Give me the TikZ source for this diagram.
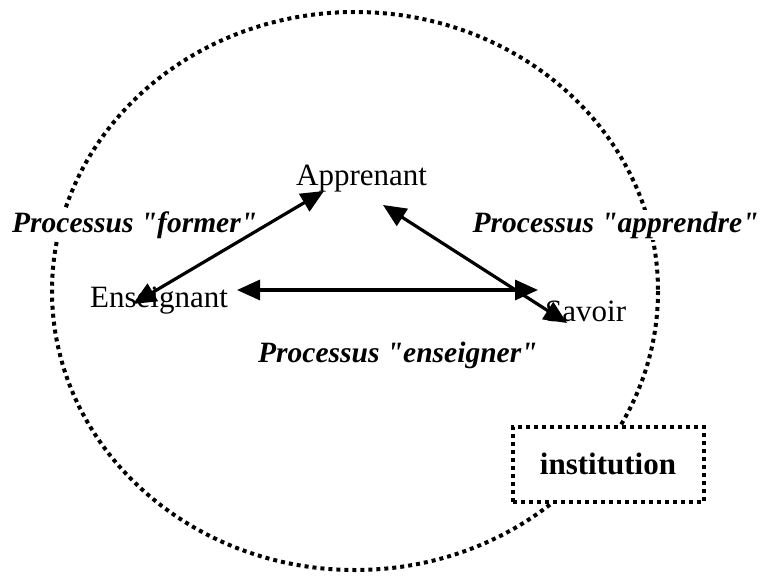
\documentclass[tikz,border=0pt]{standalone}
\usepackage{fontspec}
\setmainfont{Liberation Serif}[Ligatures=TeXOff]
\usetikzlibrary{arrows.meta}
\tikzset{
  dotline/.style={line width=4pt, dash pattern=on 4pt off 4pt},
  word/.style={inner sep=0pt, anchor=base west, font=\fontsize{31}{31}\selectfont},
  proc/.style={inner sep=1.5pt, fill=white, anchor=base west, font=\fontsize{29.5}{29.5}\selectfont\bfseries\itshape},
  arr/.style={line width=3.2pt, {Triangle[length=23pt,width=20pt]}-{Triangle[length=23pt,width=20pt]}}
}
\begin{document}
\begin{tikzpicture}[x=1pt,y=-1pt]
\useasboundingbox (0,0) rectangle (762,583);
\draw[dotline] (355,291) ellipse [x radius=303, y radius=279];
\node[proc] (lf) at (10.5,232) {Processus "former"};
\node[proc] (la) at (471,232) {Processus "apprendre"};
\node[proc] (le) at (256.5,362) {Processus "enseigner"};
\node[dotline, draw, fill=white, minimum width=191pt, minimum height=75pt, inner sep=0pt,
      font=\fontsize{31}{31}\selectfont\bfseries] (inst) at (608,464) {institution};
\node[word] (ens) at (90,307) {Enseignant};
\node[word] (app) at (296,185) {Apprenant};
\node[word] (sav) at (545,321) {Savoir};
\coordinate (e1) at (133,304);
\coordinate (a1) at (324,191);
\coordinate (e2) at (237,290);
\coordinate (s2) at (538,290);
\coordinate (a3) at (383,205);
\coordinate (s3) at (567,323);
\draw[arr] (e1) -- (a1);
\draw[arr] (e2) -- (s2);
\draw[arr] (a3) -- (s3);
\end{tikzpicture}
\end{document}
